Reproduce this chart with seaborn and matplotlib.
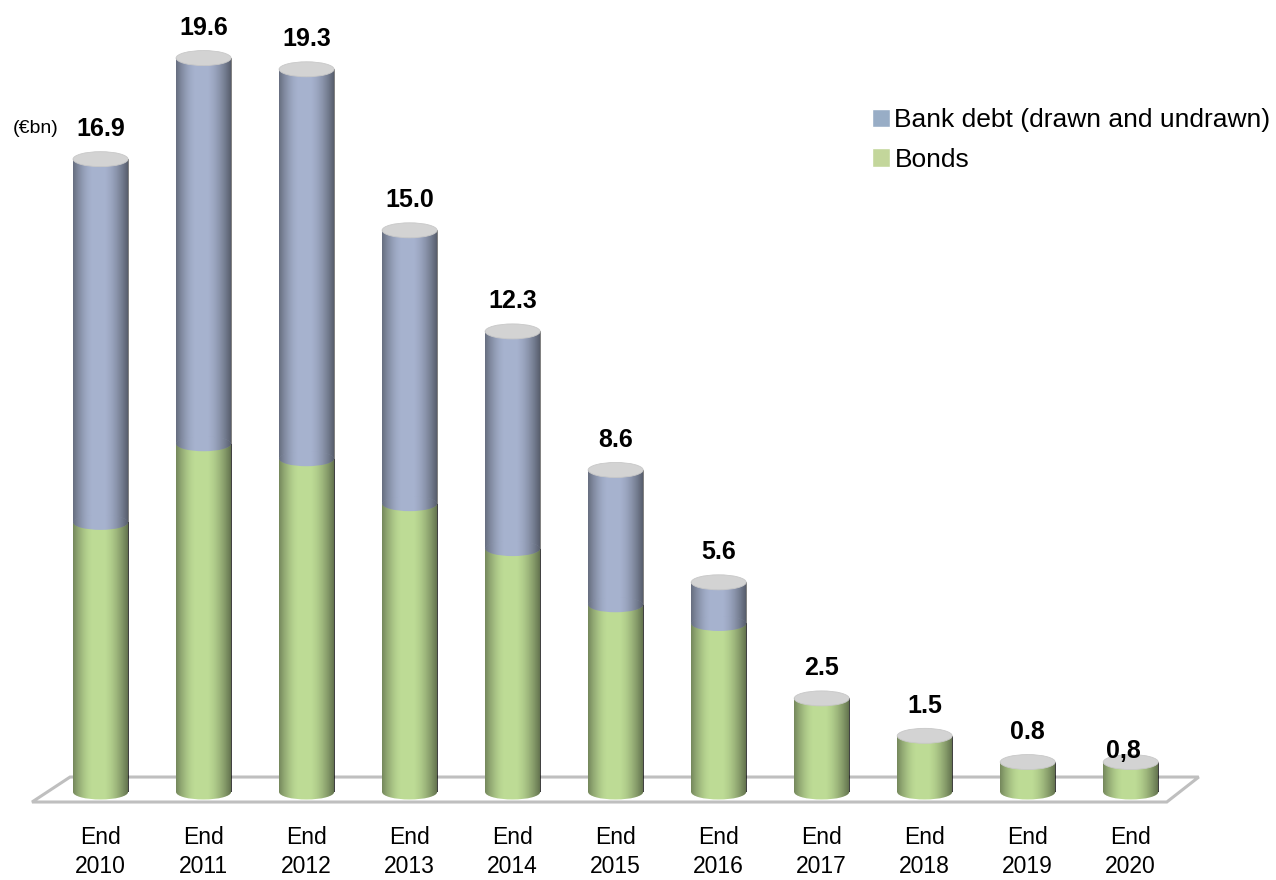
import numpy as np
import pandas as pd
import matplotlib.pyplot as plt
import seaborn as sns
from matplotlib.patches import Ellipse, Polygon, Patch

years = ["End\n2010", "End\n2011", "End\n2012", "End\n2013", "End\n2014", "End\n2015",
         "End\n2016", "End\n2017", "End\n2018", "End\n2019", "End\n2020"]
bonds = [7.2, 9.3, 8.9, 7.7, 6.5, 5.0, 4.5, 2.5, 1.5, 0.8, 0.8]
bank = [9.7, 10.3, 10.4, 7.3, 5.8, 3.6, 1.1, 0.0, 0.0, 0.0, 0.0]
labels = ["16.9", "19.6", "19.3", "15.0", "12.3", "8.6", "5.6", "2.5", "1.5", "0.8", "0,8"]

blue = "#a6b2ce"
green = "#bddb95"
cap_grey = "#d3d3d3"

sns.set_style("white")
plt.rcParams["font.family"] = ["Liberation Sans", "DejaVu Sans"]
plt.rcParams["text.color"] = "black"
plt.rcParams["xtick.color"] = "black"

df = pd.DataFrame({"year": years, "bonds": bonds, "bank": bank})
df["total"] = df["bonds"] + df["bank"]

fig = plt.figure(figsize=(12.76, 8.8), dpi=100)
ax = fig.add_axes([0, 65 / 880, 1, 815 / 880])

w = 0.534
sns.barplot(data=df, x="year", y="total", color=blue, width=w, saturation=1,
            ax=ax, zorder=2, linewidth=0)
sns.barplot(data=df, x="year", y="bonds", color=green, width=w, saturation=1,
            ax=ax, zorder=3, linewidth=0)

# cylinder shading: dark edges, brighter middle
t = np.linspace(0, 1, 80)
alpha = np.where(t < 0.35, 0.38 * (1 - t / 0.35) ** 1.6, 0.0)
alpha = alpha + np.where(t > 0.55, 0.5 * ((t - 0.55) / 0.45) ** 1.6, 0.0)
shade = np.zeros((1, 80, 4))
shade[..., 3] = alpha


def add_shade(patch, x0, x1, y0, y1, z):
    im = ax.imshow(shade, extent=(x0, x1, y0, y1), aspect="auto", zorder=z,
                   interpolation="bilinear")
    im.set_clip_path(patch)


bars = list(ax.patches)
for p in bars:
    add_shade(p, p.get_x(), p.get_x() + p.get_width(), p.get_y(),
              p.get_y() + p.get_height(), p.get_zorder() + 0.05)

eh = 0.40
for i, row in df.iterrows():
    bottom = Ellipse((i, 0), w, eh, facecolor=green, edgecolor="none", zorder=1.5)
    ax.add_patch(bottom)
    add_shade(bottom, i - w / 2, i + w / 2, -eh / 2, eh / 2, 1.55)
    if row["bank"] > 0:
        seam = Ellipse((i, row["bonds"]), w, eh, facecolor=blue, edgecolor="none", zorder=4)
        ax.add_patch(seam)
        add_shade(seam, i - w / 2, i + w / 2, row["bonds"] - eh / 2, row["bonds"] + eh / 2, 4.05)
    cap = Ellipse((i, row["total"]), w, eh, facecolor=cap_grey, edgecolor="#c8c8c8",
                  linewidth=0.6, zorder=5)
    ax.add_patch(cap)
    dy = 0.62 if "," not in labels[i] else 0.12
    ax.text(i - (0.07 if "," in labels[i] else 0), row["total"] + dy, labels[i],
            ha="center", va="baseline", fontsize=18, fontweight="bold", zorder=6)

# floor
floor = Polygon([(-0.665, -0.267), (-0.296, 0.40), (10.66, 0.40), (10.35, -0.267)],
                closed=True, facecolor="white", edgecolor="#bfbfbf", linewidth=2.2, zorder=1)
ax.add_patch(floor)

ax.set_xlim(-0.976, 11.41)
ax.set_ylim(-0.614, 21.15)
ax.set_xlabel("")
ax.set_ylabel("")
ax.set_yticks([])
ax.tick_params(axis="x", length=0, pad=8, labelsize=16.5)
for lab in ax.get_xticklabels():
    lab.set_linespacing(1.3)
sns.despine(ax=ax, left=True, bottom=True)

fig.text(36 / 1276, 1 - 128 / 880, "(€bn)", ha="center", va="center", fontsize=14)

handles = [Patch(facecolor="#98adc6", label="Bank debt (drawn and undrawn)"),
           Patch(facecolor="#c3d69b", label="Bonds")]
fig.legend(handles=handles, loc="upper left", bbox_to_anchor=(872 / 1276, 1 - 108 / 880),
           frameon=False, handlelength=0.7, handleheight=0.7, handletextpad=0.15,
           labelspacing=0.6, borderaxespad=0, borderpad=0,
           prop={"size": 19})

fig.savefig("out.png", dpi=100)
